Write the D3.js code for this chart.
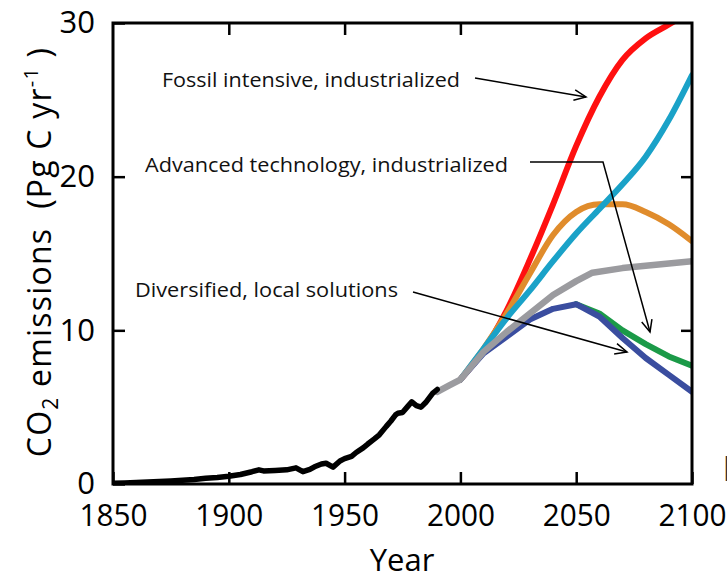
<!DOCTYPE html>
<html><head><meta charset="utf-8">
<script src="https://cdn.jsdelivr.net/npm/d3@7"></script>
<style>html,body{margin:0;padding:0;background:#fff;}svg{display:block;}</style>
</head><body>
<svg id="c" width="727" height="577"></svg>
<script>
// ---- data ----
const histYears  = [1850,1855,1860,1865,1870,1875,1880,1885,1890,1895,1900,1905,1910,1913,1915,1920,1925,1929,1932,1935,1937,1940,1942,1945,1948,1950,1953,1955,1958,1960,1963,1965,1968,1970,1972,1973,1975,1977,1979,1981,1983,1985,1988,1990];
const histValues = [0.05,0.07,0.1,0.13,0.16,0.2,0.25,0.3,0.37,0.42,0.5,0.62,0.8,0.92,0.85,0.88,0.92,1.05,0.8,0.95,1.12,1.3,1.35,1.1,1.5,1.65,1.8,2.05,2.35,2.6,2.95,3.2,3.75,4.1,4.5,4.6,4.65,5.0,5.35,5.1,5.0,5.3,5.9,6.15];

const scenYears  = [2000,2010,2020,2030,2040,2050,2060,2070,2080,2090,2100];
const fossil     = [6.8,8.7,11.3,14.6,18.2,22.0,25.2,27.6,29.0,29.9,30.8];
const advanced   = [6.8,8.8,10.8,12.6,14.5,16.3,17.9,19.5,21.3,23.7,26.6];
const orangeVals = [6.8,8.8,11.1,13.7,16.2,17.7,18.2,18.2,17.7,16.9,15.8];
const blueVals   = [6.8,8.5,9.6,10.7,11.4,11.7,10.9,9.5,8.2,7.1,6.0];
const greenYears = [2050,2060,2070,2080,2090,2100];
const greenVals  = [11.7,11.1,10.0,9.1,8.3,7.7];
const grayYears  = [1990,1995,2000,2010,2020,2030,2040,2050,2057,2070,2080,2090,2100];
const grayVals   = [6.0,6.4,6.8,8.6,9.9,11.1,12.3,13.2,13.75,14.05,14.2,14.35,14.5];

const xTicks = [1850,1900,1950,2000,2050,2100];
const yTicks = [0,10,20,30];
const labels = ["Fossil intensive, industrialized","Advanced technology, industrialized","Diversified, local solutions"];

// ---- layout ----
const svg = d3.select("#c");
const L=113, R=692, T=23, B=484;
const x = d3.scaleLinear().domain([1850,2100]).range([L,R]);
const y = d3.scaleLinear().domain([0,30]).range([B,T]);
const FONT = "'Open Sans', 'Noto Sans', sans-serif";

svg.append("defs").append("clipPath").attr("id","plot")
  .append("rect").attr("x",L).attr("y",T).attr("width",R-L).attr("height",B-T);

const zip = (a,b)=>a.map((v,i)=>[v,b[i]]);
const g = svg.append("g").attr("clip-path","url(#plot)");

function draw(yrs, vals, color, w, curve){
  const line = d3.line().x(d=>x(d[0])).y(d=>y(d[1])).curve(curve||d3.curveLinear);
  g.append("path").datum(zip(yrs,vals)).attr("d",line)
   .attr("fill","none").attr("stroke",color).attr("stroke-width",w)
   .attr("stroke-linejoin","round").attr("stroke-linecap","round");
}
draw(scenYears, fossil, "#ff1010", 6, d3.curveMonotoneX);
draw(scenYears, orangeVals, "#e08c2c", 6, d3.curveMonotoneX);
draw(scenYears, advanced, "#1aa2c8", 6, d3.curveMonotoneX);
draw(greenYears, greenVals, "#1b9a48", 6);
draw(scenYears, blueVals, "#3a4d9f", 6);
draw(grayYears, grayVals, "#9b9b9f", 6.5);
draw(histYears, histValues, "#000", 5.5);

// ---- frame & ticks ----
svg.append("rect").attr("x",L).attr("y",T).attr("width",R-L).attr("height",B-T)
  .attr("fill","none").attr("stroke","#000").attr("stroke-width",3);

const xb = svg.append("g").attr("transform",`translate(0,${B})`)
  .call(d3.axisBottom(x).tickValues(xTicks).tickFormat(d3.format("d")).tickSizeInner(-12).tickSizeOuter(0).tickPadding(20));
xb.select(".domain").remove();
xb.selectAll("line").attr("stroke-width",2.5);
xb.selectAll("text").attr("font-family",FONT).attr("font-size",31).attr("fill","#000")
  .attr("textLength",68).attr("lengthAdjust","spacingAndGlyphs");

const xt = svg.append("g").attr("transform",`translate(0,${T})`)
  .call(d3.axisTop(x).tickValues(xTicks.slice(1,-1)).tickSizeInner(-12).tickSizeOuter(0).tickFormat(""));
xt.select(".domain").remove();
xt.selectAll("line").attr("stroke-width",2.5);

const yl = svg.append("g").attr("transform",`translate(${L},0)`)
  .call(d3.axisLeft(y).tickValues(yTicks).tickSizeInner(-12).tickSizeOuter(0).tickPadding(18));
yl.select(".domain").remove();
yl.selectAll("line").attr("stroke-width",2.5);
yl.selectAll("text").attr("font-family",FONT).attr("font-size",31).attr("fill","#000");

const yr = svg.append("g").attr("transform",`translate(${R},0)`)
  .call(d3.axisRight(y).tickValues([10,20]).tickSizeInner(-11).tickSizeOuter(0).tickFormat(""));
yr.select(".domain").remove();
yr.selectAll("line").attr("stroke-width",2.5);

// ---- axis titles ----
svg.append("text").attr("x",402).attr("y",571).attr("text-anchor","middle")
  .attr("font-family",FONT).attr("font-size",31).text("Year");

const yt = svg.append("text").attr("transform","translate(51,252) rotate(-90)")
  .attr("text-anchor","middle").attr("font-family",FONT).attr("font-size",32)
  .attr("letter-spacing",1.2).attr("xml:space","preserve");
yt.append("tspan").text("CO");
yt.append("tspan").attr("font-size",21).attr("dy",7).text("2");
yt.append("tspan").attr("dy",-7).text(" emissions  (Pg C yr");
yt.append("tspan").attr("font-size",20).attr("dy",-13).text("-1");
yt.append("tspan").attr("dy",13).text(" )");

// partial glyph at right edge
svg.append("text").attr("x",723).attr("y",481).attr("font-family",FONT)
  .attr("font-size",32).attr("fill","#333").text("l");

// ---- annotations ----
const ann = [
  {t:labels[0], x:162, y:87, w:298},
  {t:labels[1], x:145, y:172, w:363},
  {t:labels[2], x:135, y:297, w:263}
];
ann.forEach(a=>svg.append("text").attr("x",a.x).attr("y",a.y)
  .attr("font-family",FONT).attr("font-size",20.5).attr("fill","#111")
  .attr("textLength",a.w).attr("lengthAdjust","spacingAndGlyphs").text(a.t));

function arrow(pts){
  svg.append("path").attr("d",d3.line()(pts)).attr("fill","none")
    .attr("stroke","#000").attr("stroke-width",1.5);
  const [p,q] = [pts[pts.length-2], pts[pts.length-1]];
  const ang = Math.atan2(q[1]-p[1], q[0]-p[0]);
  const len=13, spread=0.42;
  const a1=[q[0]-len*Math.cos(ang-spread), q[1]-len*Math.sin(ang-spread)];
  const a2=[q[0]-len*Math.cos(ang+spread), q[1]-len*Math.sin(ang+spread)];
  svg.append("path").attr("d",d3.line()([a1,q,a2])).attr("fill","none")
    .attr("stroke","#000").attr("stroke-width",1.5);
}
arrow([[475,78],[586,97]]);
arrow([[530,162],[603,162],[650,332]]);
arrow([[413,292],[627,352]]);
</script>
</body></html>
